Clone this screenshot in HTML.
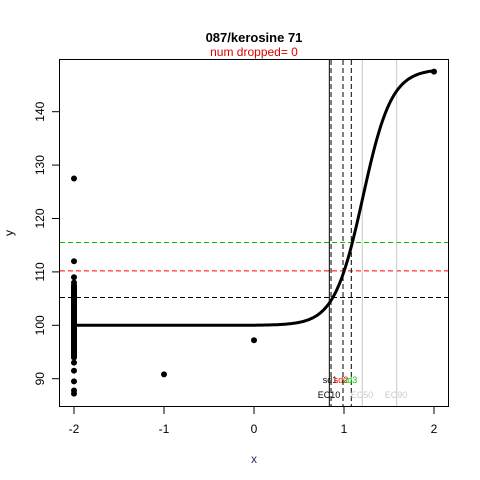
<!DOCTYPE html>
<html><head><meta charset="utf-8"><style>body{margin:0;background:#fff}svg{display:block;font-family:"Liberation Sans",Arial,sans-serif}</style></head>
<body>
<svg id="c" width="480" height="480">
<text x="254" y="42" text-anchor="middle" font-size="13" font-weight="bold">087/kerosine 71</text>
<text x="254" y="56" text-anchor="middle" font-size="12" fill="#e00000">num dropped= 0</text>
<text x="254" y="463" text-anchor="middle" font-size="12" fill="#402060">x</text>
<text x="13" y="233" text-anchor="middle" font-size="12" transform="rotate(-90 13 233)">y</text>
<g id="g"></g>
<rect x="59.5" y="59.5" width="389" height="347" fill="none" stroke="#000"/>
</svg>
<script>
const xTicks=[-2,-1,0,1,2];
const yTicks=[90,100,110,120,130,140];
const ptX=[-2,-2,-2,-2,-2,-2,-2,-2,-2,-2,-2,-1,0,2];
const ptY=[127.5,112,109,108,93,91.5,89.5,87.8,87.2,94,96,90.8,97.2,147.5];
const colMin=94, colMax=107.5;
const hLines=[115.5,110.2,105.2];
const hColors=["#00c000","#ff0000","#000"];
const vLines=[0.837,0.856,0.989,1.081,1.203,1.585];
const vStyles=["solid","dash","dash","dash","gray","gray"];
const curveBottom=100, curveTop=148, curveMid=1.21, curveSlope=6.3;
const X=v=>254+(v)*90, Y=v=>325.3-(v-100)*5.34;
const g=document.getElementById('g');const NS="http://www.w3.org/2000/svg";
function mk(t,a){const e=document.createElementNS(NS,t);for(const k in a)e.setAttribute(k,a[k]);g.appendChild(e);return e;}
xTicks.forEach(t=>{const l=mk('line',{x1:X(t),x2:X(t),y1:407,y2:414,stroke:'#000'});


const s=mk('text',{x:X(t),y:433,'text-anchor':'middle','font-size':12});s.textContent=t;

});
yTicks.forEach(t=>{const l=mk('line',{x1:52,x2:59,y1:Y(t),y2:Y(t),stroke:'#000'});


const s=mk('text',{x:44,y:Y(t),'text-anchor':'middle','font-size':12,transform:`rotate(-90 44 ${Y(t)})`});s.textContent=t;

});
hLines.forEach((v,i)=>{const l=mk('line',{x1:60,x2:448,y1:Y(v),y2:Y(v),stroke:hColors[i],'stroke-dasharray':'5,3'});

});
vLines.forEach((v,i)=>{const st=vStyles[i];const a={x1:X(v),x2:X(v),y1:60,y2:406,stroke:st=='gray'?'#c8c8c8':'#000'};if(st=='dash')a['stroke-dasharray']='5,3';const l=mk('line',a);

});
let d='';for(let i=0;i<=400;i++){const x=-2+i*0.01;const y=curveBottom+(curveTop-curveBottom)/(1+Math.exp(-curveSlope*(x-curveMid)));d+=(i?'L':'M')+X(x).toFixed(1)+','+Y(y).toFixed(1);}
const c=mk('path',{d:d,fill:'none',stroke:'#000','stroke-width':3});


const col=mk('line',{x1:X(-2),x2:X(-2),y1:Y(colMin),y2:Y(colMax),stroke:'#000','stroke-width':6,'stroke-linecap':'round'});


ptX.forEach((v,i)=>{const p=mk('circle',{cx:X(v),cy:Y(ptY[i]),r:3,fill:'#000'});

});
[['sd1',330,'#000'],['sd2',341,'#f00'],['sd3',350,'#0c0']].forEach(a=>{const t=mk('text',{x:a[1],y:383,'text-anchor':'middle','font-size':9,fill:a[2]});t.textContent=a[0];

});
[['EC10',329,'#000'],['EC50',362,'#ccc'],['EC90',396,'#ccc']].forEach(a=>{const t=mk('text',{x:a[1],y:398,'text-anchor':'middle','font-size':9,fill:a[2]});t.textContent=a[0];

});
</script>
</body></html>
